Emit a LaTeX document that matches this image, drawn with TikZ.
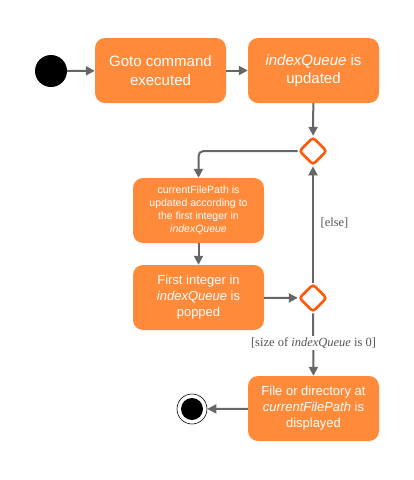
\documentclass[tikz,border=0pt]{standalone}
\usepackage{fontspec}
\setmainfont{Liberation Serif}
\newfontfamily\boxfont{Liberation Sans}
\usetikzlibrary{shapes.geometric,arrows.meta}
\definecolor{actfill}{HTML}{FF8A3A}
\definecolor{decline}{HTML}{FF5A0A}
\definecolor{arrowgray}{HTML}{666666}
\definecolor{labelgray}{HTML}{555555}
\begin{document}
\begin{tikzpicture}[x=1pt,y=-1pt,
  act/.style={draw=none, fill=actfill, rounded corners=10pt, text=white,
    font=\boxfont\fontsize{15}{18.5}\selectfont, align=center,
    minimum width=131pt, minimum height=65pt, inner sep=2pt},
  actmid/.style={act, font=\boxfont\fontsize{13}{16}\selectfont},
  actsmall/.style={act, font=\boxfont\fontsize{10.5}{13}\selectfont},
  decision/.style={diamond, draw=decline, fill=white, line width=2.6pt,
    minimum width=28pt, minimum height=28pt, inner sep=0pt, rounded corners=3pt},
  flow/.style={draw=arrowgray, line width=2pt, -{Triangle[length=9pt,width=9pt]}},
  guard/.style={text=labelgray, font=\fontsize{12.5}{15}\selectfont, inner sep=1pt}
]
\useasboundingbox (0,0) rectangle (414,480);

\node[circle, fill=black, minimum size=32pt, inner sep=0pt] (start) at (51,71) {};
\node[act] (goto) at (160.5,70.5) {Goto command\\executed};
\node[act] (upd) at (313.5,70.5) {\textit{indexQueue} is\\updated};
\node[decision] (d1) at (313,151) {};
\node[actsmall] (path) at (198.5,210.5) {currentFilePath is\\updated according to\\the first integer in\\\textit{indexQueue}};
\node[actmid] (pop) at (198.5,297.5) {First integer in\\\textit{indexQueue} is\\popped};
\node[decision] (d2) at (313,298) {};
\node[actmid] (disp) at (313.5,408.5) {File or directory at\\\textit{currentFilePath} is\\displayed};
\node[circle, draw=black, line width=0.6pt, fill=white, minimum size=30pt, inner sep=0pt] (endo) at (192,409) {};
\node[circle, fill=black, minimum size=22pt, inner sep=0pt] (endi) at (192,409) {};

\draw[flow] (start) -- (goto);
\draw[flow] (goto) -- (upd);
\draw[flow] (upd) -- (d1);
\draw[flow, rounded corners=5pt] (d1.west) -| (path.north);
\draw[flow] (path) -- (pop);
\draw[flow] (pop) -- (d2);
\draw[flow] (d2.north) -- (d1.south);
\draw[flow] (d2.south) -- (disp.north);
\draw[flow] (disp) -- (endo);

\node[guard] (lelse) at (334.5,223) {[else]};
\node[guard, fill=white, inner sep=2pt] (lsize) at (313.5,343) {[size of \textit{indexQueue} is 0]};
\end{tikzpicture}
\end{document}
